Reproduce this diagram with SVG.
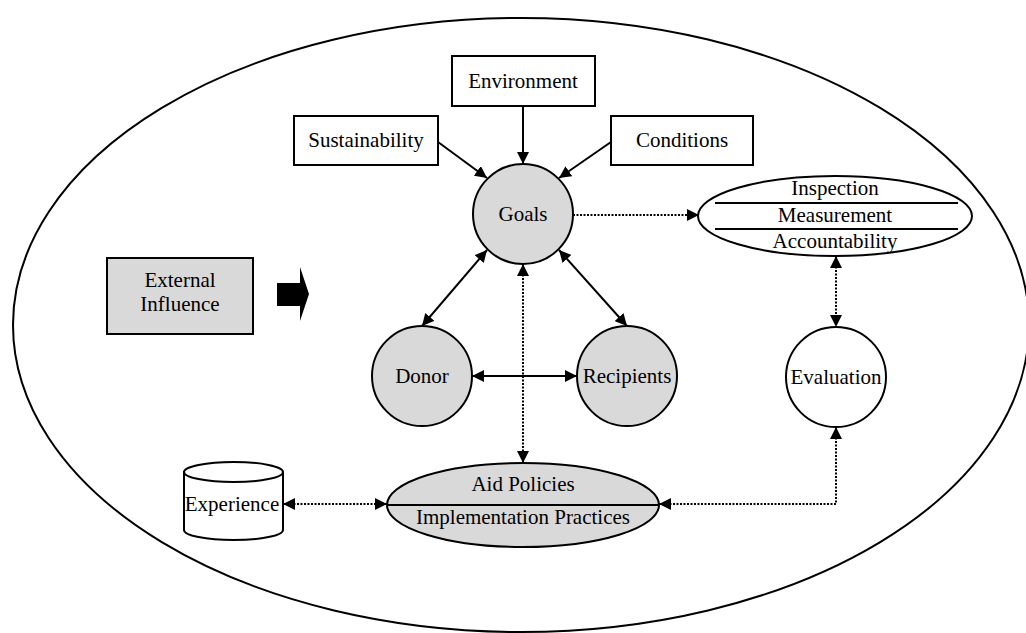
<svg xmlns="http://www.w3.org/2000/svg" width="1026" height="633" viewBox="0 0 1026 633">
<defs>
<marker id="ah" viewBox="0 0 12 12" refX="12" refY="6" markerWidth="12" markerHeight="12" markerUnits="userSpaceOnUse" orient="auto-start-reverse">
<path d="M0,0 L12,6 L0,12 z" fill="#000"/>
</marker>
<style>
text{font-family:"Liberation Serif","Times New Roman",serif;font-size:21px;fill:#000;text-anchor:middle}
.box{fill:#fff;stroke:#000;stroke-width:2}
.grey{fill:#d9d9d9;stroke:#000;stroke-width:2}
.white{fill:#fff;stroke:#000;stroke-width:2}
.solid{fill:none;stroke:#000;stroke-width:2}
.dot{fill:none;stroke:#000;stroke-width:2;stroke-dasharray:2 1.5}
</style>
</defs>
<rect width="1026" height="633" fill="#fff"/>
<ellipse id="context" cx="521" cy="325" rx="508" ry="307" fill="none" stroke="#000" stroke-width="2"/>

<g id="environment"><rect class="box" x="452" y="56" width="143" height="50"/><text x="523" y="88">Environment</text></g>
<g id="sustainability"><rect class="box" x="294" y="116" width="144" height="49"/><text x="366" y="147">Sustainability</text></g>
<g id="conditions"><rect class="box" x="611" y="116" width="142" height="49"/><text x="682" y="147">Conditions</text></g>
<g id="goals"><circle class="grey" cx="523" cy="214" r="50"/><text x="523" y="221">Goals</text></g>
<g id="inspection"><ellipse class="white" cx="835" cy="216" rx="137" ry="40"/>
<line x1="715" y1="203" x2="958" y2="203" stroke="#000" stroke-width="2"/>
<line x1="715" y1="229" x2="958" y2="229" stroke="#000" stroke-width="2"/>
<text x="835" y="195">Inspection</text><text x="835" y="222">Measurement</text><text x="835" y="248">Accountability</text></g>
<g id="external"><rect class="grey" x="107" y="258" width="146" height="76"/><text x="180" y="287">External</text><text x="180" y="311">Influence</text></g>
<g id="bigarrow"><path d="M277,283 L300,283 L300,267 L309,294 L300,321 L300,306 L277,306 z" fill="#000"/></g>
<g id="donor"><circle class="grey" cx="422" cy="376" r="50"/><text x="422" y="383">Donor</text></g>
<g id="recipients"><circle class="grey" cx="627" cy="376" r="50"/><text x="627" y="383">Recipients</text></g>
<g id="evaluation"><circle class="white" cx="836" cy="377" r="50"/><text x="836" y="384">Evaluation</text></g>
<g id="aidpolicies"><ellipse class="grey" cx="523" cy="505" rx="136" ry="42"/>
<line x1="387" y1="505" x2="659" y2="505" stroke="#000" stroke-width="2"/>
<text x="523" y="491">Aid Policies</text><text x="523" y="524">Implementation Practices</text></g>
<g id="experience"><path class="white" d="M184,472 L184,530 A49.5,10 0 0 0 283,530 L283,472"/><ellipse class="white" cx="233.5" cy="472" rx="49.5" ry="10"/><text x="232" y="511">Experience</text></g>

<g id="connectors">
<line class="solid" x1="523" y1="106" x2="523" y2="164" marker-end="url(#ah)"/>
<line class="solid" x1="438" y1="142" x2="487" y2="178" marker-end="url(#ah)"/>
<line class="solid" x1="611" y1="142" x2="559" y2="178" marker-end="url(#ah)"/>
<line class="dot" x1="573" y1="215" x2="699" y2="215" marker-end="url(#ah)"/>
<line class="solid" x1="487" y1="250" x2="422" y2="326" marker-start="url(#ah)" marker-end="url(#ah)"/>
<line class="solid" x1="559" y1="250" x2="627" y2="326" marker-start="url(#ah)" marker-end="url(#ah)"/>
<line class="solid" x1="472" y1="376" x2="577" y2="376" marker-start="url(#ah)" marker-end="url(#ah)"/>
<line class="dot" x1="523" y1="264" x2="523" y2="463" marker-start="url(#ah)" marker-end="url(#ah)"/>
<line class="dot" x1="836" y1="256" x2="836" y2="327" marker-start="url(#ah)" marker-end="url(#ah)"/>
<path class="dot" d="M836,427 L836,504 L659,504" marker-start="url(#ah)" marker-end="url(#ah)"/>
<line class="dot" x1="283" y1="504" x2="387" y2="504" marker-start="url(#ah)" marker-end="url(#ah)"/>
</g>
</svg>
